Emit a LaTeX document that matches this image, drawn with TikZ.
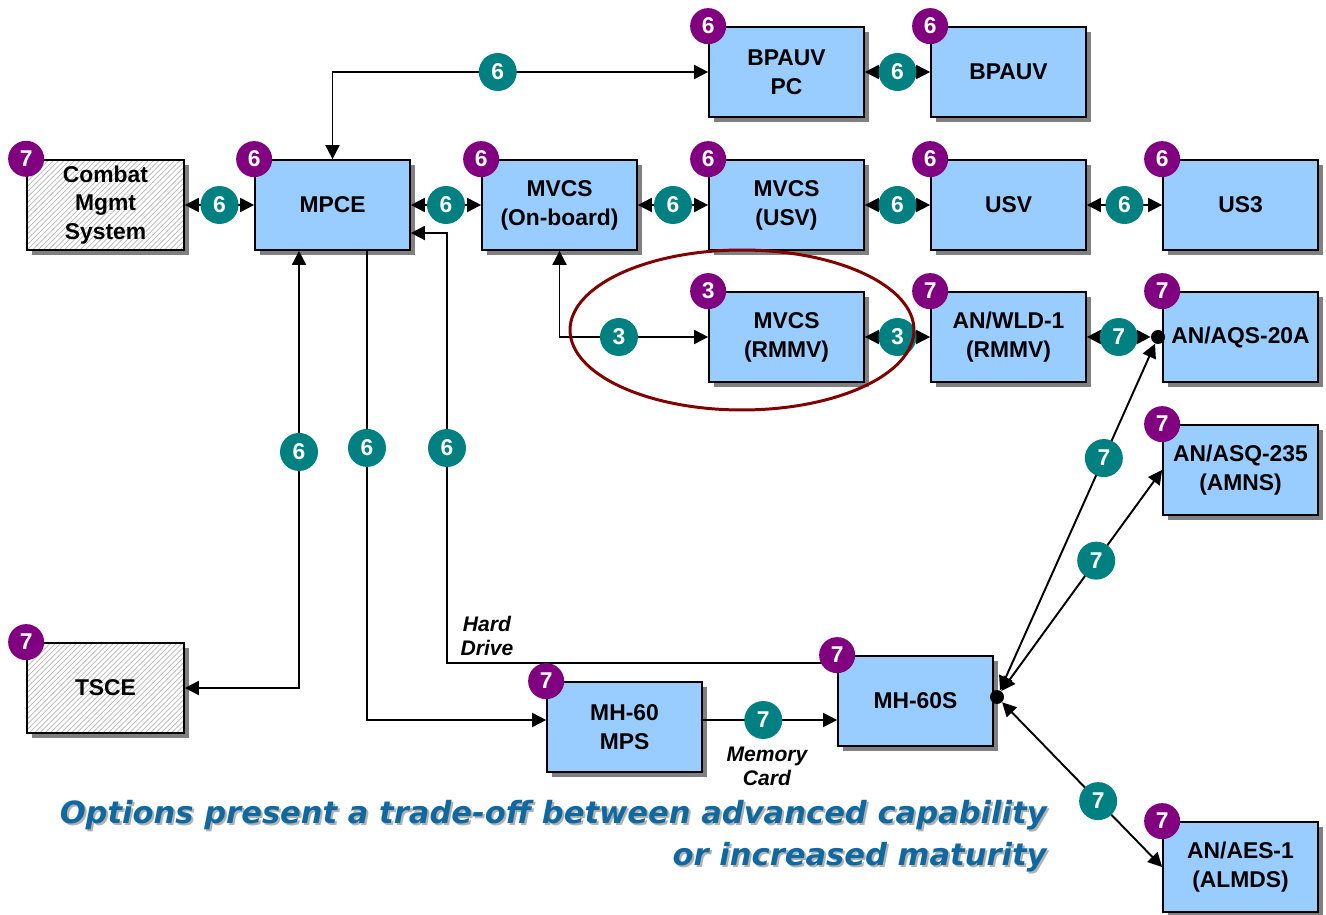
\documentclass[tikz,border=0pt]{standalone}
\usepackage{fontspec}
\setmainfont{Liberation Sans}
\newfontfamily\tagfont{DejaVu Sans}
\usepackage{tikz}
\usetikzlibrary{positioning}
\usetikzlibrary{arrows.meta}
\usetikzlibrary{shadows}
\usetikzlibrary{patterns}
\usepackage{xcolor}
\definecolor{boxblue}{RGB}{153,204,255}
\definecolor{badgepurple}{RGB}{128,0,128}
\definecolor{badgeteal}{RGB}{0,128,128}
\definecolor{ringred}{RGB}{128,0,0}
\definecolor{tagblue}{RGB}{16,104,160}

\tikzset{
  unit/.style={draw, line width=1pt, fill=boxblue, minimum width=3.1cm, minimum height=1.8cm,
    align=center, font=\bfseries\fontsize{13}{16.4}\selectfont,
    drop shadow={shadow xshift=0.1cm, shadow yshift=-0.1cm, fill=gray, opacity=1}},
  legacy/.style={unit, minimum width=3.14cm, fill=none, preaction={fill=white},
    pattern=north east lines, pattern color=gray!55},
  pbadge/.style={circle, fill=badgepurple, text=white, inner sep=0pt, minimum size=0.72cm,
    font=\bfseries\fontsize{13}{13}\selectfont},
  tbadge/.style={pbadge, fill=badgeteal, minimum size=0.76cm},
  twoway/.style={line width=1.1pt, {Triangle[length=8pt,width=8pt]}-{Triangle[length=8pt,width=8pt]}},
  oneway/.style={line width=1.1pt, -{Triangle[length=8pt,width=8pt]}},
  jdot/.style={circle, fill=black, inner sep=0pt, minimum size=0.28cm},
  medianote/.style={font=\bfseries\itshape\fontsize{12}{13.6}\selectfont, align=center},
  tagtext/.style={font=\tagfont\bfseries\itshape\fontsize{17.4}{24}\selectfont, align=right, inner sep=0pt}
}

\begin{document}
\begin{tikzpicture}[x=0.02cm, y=-0.02cm]
  \useasboundingbox (0,0) rectangle (1326,915);

  % systems
  \node[legacy] (combat) at (105.5,205) {Combat\\Mgmt\\System};
  \node[unit] (mpce) at (332.5,205) {MPCE};
  \node[unit] (onboard) at (559.5,205) {MVCS\\(On-board)};
  \node[unit] (mvcsusv) at (786.5,205) {MVCS\\(USV)};
  \node[unit] (usv) at (1008.5,205) {USV};
  \node[unit] (us3) at (1240.5,205) {US3};
  \node[unit] (bpauvpc) at (786.5,72) {BPAUV\\PC};
  \node[unit] (bpauv) at (1008.5,72) {BPAUV};
  \node[unit] (rmmv) at (786.5,337) {MVCS\\(RMMV)};
  \node[unit] (wld) at (1008.5,337) {AN/WLD-1\\(RMMV)};
  \node[unit] (aqs) at (1240.5,337) {AN/AQS-20A};
  \node[unit] (asq) at (1240.5,470) {AN/ASQ-235\\(AMNS)};
  \node[unit] (aes) at (1240.5,867) {AN/AES-1\\(ALMDS)};
  \node[unit] (mh60s) at (915.5,701) {MH-60S};
  \node[unit] (mps) at (624.5,727) {MH-60\\MPS};
  \node[legacy] (tsce) at (105.5,688) {TSCE};

  \node[jdot] (aqsdot) at (1158,337) {};
  \node[jdot] (mhdot) at (997,697) {};
  \coordinate (hdbend) at (447,233);

  % links
  \draw[twoway] (combat) -- node[tbadge] (c1) {6} (mpce);
  \draw[twoway] (mpce) -- node[tbadge] (c2) {6} (onboard);
  \draw[twoway] (onboard) -- node[tbadge] (c3) {6} (mvcsusv);
  \draw[twoway] (mvcsusv) -- node[tbadge] (c4) {6} (usv);
  \draw[twoway] (usv) -- node[tbadge] (c5) {6} (us3);
  \draw[twoway] (bpauvpc) -- node[tbadge] (c6) {6} (bpauv);
  \draw[twoway] (mpce) |- node[tbadge, pos=0.72] (c7) {6} (bpauvpc);
  \draw[twoway] (onboard) |- node[tbadge, pos=0.70] (c8) {3} (rmmv);
  \draw[twoway] (rmmv) -- node[tbadge] (c9) {3} (wld);
  \draw[twoway] (wld) -- node[tbadge] (c10) {7} (aqsdot);
  \draw[twoway] (mhdot) -- node[tbadge, pos=0.67] (c11) {7} (aqsdot);
  \draw[twoway] (mhdot) -- node[tbadge, pos=0.59] (c12) {7} (asq.west);
  \draw[twoway] (mhdot) -- node[tbadge, pos=0.6] (c13) {7} (aes.west);
  \draw[twoway] ([xshift=-0.67cm]mpce.south) |- node[tbadge, pos=0.23] (c14) {6} (tsce);
  \draw[oneway] ([xshift=0.69cm]mpce.south) |- node[tbadge, pos=0.21] (c15) {6} ([yshift=0.14cm]mps.west);
  \draw[oneway] ([yshift=0.76cm]mh60s.west) -| node[tbadge, pos=0.75] (c16) {6} (hdbend) -- ([yshift=-0.56cm]mpce.east);
  \draw[oneway] ([yshift=0.14cm]mps.east) -- node[tbadge, pos=0.45] (c17) {7} ([yshift=-0.38cm]mh60s.west);

  \node[medianote] (harddrive) at (487,636) {Hard\\Drive};
  \node[medianote] (memcard) at (767,766) {Memory\\Card};

  \foreach \n/\v in {combat/7, mpce/6, onboard/6, mvcsusv/6, usv/6, us3/6, bpauvpc/6, bpauv/6,
      rmmv/3, wld/7, aqs/7, asq/7, aes/7, mh60s/7, mps/7, tsce/7}
    \node[pbadge] (p-\n) at (\n.north west) {\v};

  \draw[ringred, line width=1.7pt] (742,330) ellipse [x radius=3.44cm, y radius=1.6cm];

  \node[tagtext, text=gray!60, anchor=north east] (tagshadow) at (1049,802)
    {Options present a trade-off between advanced capability\\or increased maturity};
  \node[tagtext, text=tagblue, anchor=north east] (tagline) at (1047,800)
    {Options present a trade-off between advanced capability\\or increased maturity};
\end{tikzpicture}
\end{document}
